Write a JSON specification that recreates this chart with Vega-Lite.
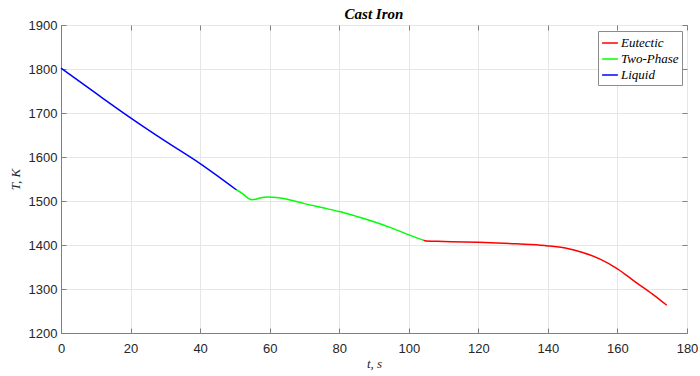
{
  "$schema": "https://vega.github.io/schema/vega-lite/v6.json",
  "width": 626,
  "height": 308,
  "autosize": {"type": "none"},
  "padding": {"left": 61, "top": 25, "right": 13, "bottom": 43},
  "background": "white",
  "title": {"text": "Cast Iron", "font": "Liberation Serif", "fontSize": 15, "fontWeight": "bold", "fontStyle": "italic", "color": "#000000", "offset": -3, "anchor": "middle"},
  "config": {
    "view": {"stroke": "#7f7f7f", "strokeWidth": 1},
    "axis": {
      "domainColor": "#7f7f7f",
      "tickColor": "#7f7f7f",
      "gridColor": "#e6e6e6",
      "gridOpacity": 1,
      "labelFont": "Liberation Sans",
      "labelFontSize": 13,
      "labelColor": "#262626",
      "labelFlush": false,
      "titleFont": "Liberation Serif",
      "titleFontStyle": "italic",
      "titleFontWeight": "normal",
      "titleFontSize": 13,
      "titleColor": "#262626",
      "tickSize": -5,
      "format": "d"
    }
  },
  "data": {"values": [
    {"t": 0, "T": 1802, "phase": "Liquid"},
    {"t": 10, "T": 1745, "phase": "Liquid"},
    {"t": 20, "T": 1689, "phase": "Liquid"},
    {"t": 30, "T": 1636, "phase": "Liquid"},
    {"t": 40, "T": 1585, "phase": "Liquid"},
    {"t": 50.5, "T": 1525, "phase": "Liquid"},
    {"t": 50.5, "T": 1525, "phase": "Two-Phase"},
    {"t": 52, "T": 1518, "phase": "Two-Phase"},
    {"t": 53.5, "T": 1508, "phase": "Two-Phase"},
    {"t": 54.9, "T": 1503, "phase": "Two-Phase"},
    {"t": 56, "T": 1504, "phase": "Two-Phase"},
    {"t": 57.5, "T": 1507.5, "phase": "Two-Phase"},
    {"t": 59.3, "T": 1509, "phase": "Two-Phase"},
    {"t": 62, "T": 1508, "phase": "Two-Phase"},
    {"t": 65, "T": 1504, "phase": "Two-Phase"},
    {"t": 70, "T": 1494, "phase": "Two-Phase"},
    {"t": 75, "T": 1485, "phase": "Two-Phase"},
    {"t": 80, "T": 1476, "phase": "Two-Phase"},
    {"t": 85, "T": 1465, "phase": "Two-Phase"},
    {"t": 90, "T": 1453, "phase": "Two-Phase"},
    {"t": 95, "T": 1439, "phase": "Two-Phase"},
    {"t": 100, "T": 1423, "phase": "Two-Phase"},
    {"t": 104.2, "T": 1411, "phase": "Two-Phase"},
    {"t": 104.2, "T": 1411, "phase": "Eutectic"},
    {"t": 105, "T": 1409, "phase": "Eutectic"},
    {"t": 110, "T": 1408, "phase": "Eutectic"},
    {"t": 120, "T": 1406, "phase": "Eutectic"},
    {"t": 130, "T": 1403, "phase": "Eutectic"},
    {"t": 135, "T": 1401, "phase": "Eutectic"},
    {"t": 140, "T": 1398, "phase": "Eutectic"},
    {"t": 145, "T": 1393, "phase": "Eutectic"},
    {"t": 150, "T": 1383, "phase": "Eutectic"},
    {"t": 155, "T": 1368, "phase": "Eutectic"},
    {"t": 160, "T": 1346, "phase": "Eutectic"},
    {"t": 165, "T": 1317, "phase": "Eutectic"},
    {"t": 170, "T": 1289, "phase": "Eutectic"},
    {"t": 174.2, "T": 1263, "phase": "Eutectic"}
  ]},
  "resolve": {"axis": {"x": "independent", "y": "independent"}},
  "layer": [
    {
      "mark": {"type": "line", "strokeWidth": 1.5, "interpolate": "monotone"},
      "encoding": {
        "x": {"field": "t", "type": "quantitative", "scale": {"domain": [0, 180], "nice": false, "zero": false},
              "axis": {"title": "t, s", "values": [0, 20, 40, 60, 80, 100, 120, 140, 160, 180], "labelPadding": 14, "titlePadding": 2}},
        "y": {"field": "T", "type": "quantitative", "scale": {"domain": [1200, 1900], "nice": false, "zero": false},
              "axis": {"title": "T, K", "values": [1200, 1300, 1400, 1500, 1600, 1700, 1800, 1900], "labelPadding": 9, "titlePadding": 6}},
        "color": {"field": "phase", "type": "nominal",
                  "scale": {"domain": ["Eutectic", "Two-Phase", "Liquid"], "range": ["#ff0000", "#00ff00", "#0000ff"]},
                  "legend": {"title": null, "orient": "none", "legendX": 537, "legendY": 6,
                             "symbolType": "stroke", "symbolSize": 250, "symbolStrokeWidth": 1.5,
                             "labelFont": "Liberation Serif", "labelFontStyle": "italic", "labelFontSize": 13, "labelColor": "#000000",
                             "strokeColor": "#8c8c8c", "fillColor": "white", "padding": 3, "rowPadding": -5, "labelOffset": 2}},
        "order": {"field": "t", "type": "quantitative"}
      }
    },
    {
      "mark": {"type": "point", "opacity": 0},
      "encoding": {
        "x": {"field": "t", "type": "quantitative", "scale": {"domain": [0, 180], "nice": false, "zero": false},
              "axis": {"orient": "top", "title": null, "labels": false, "grid": false, "domain": false, "values": [0, 20, 40, 60, 80, 100, 120, 140, 160, 180]}},
        "y": {"field": "T", "type": "quantitative", "scale": {"domain": [1200, 1900], "nice": false, "zero": false},
              "axis": {"orient": "right", "title": null, "labels": false, "grid": false, "domain": false, "values": [1200, 1300, 1400, 1500, 1600, 1700, 1800, 1900]}}
      }
    }
  ]
}
